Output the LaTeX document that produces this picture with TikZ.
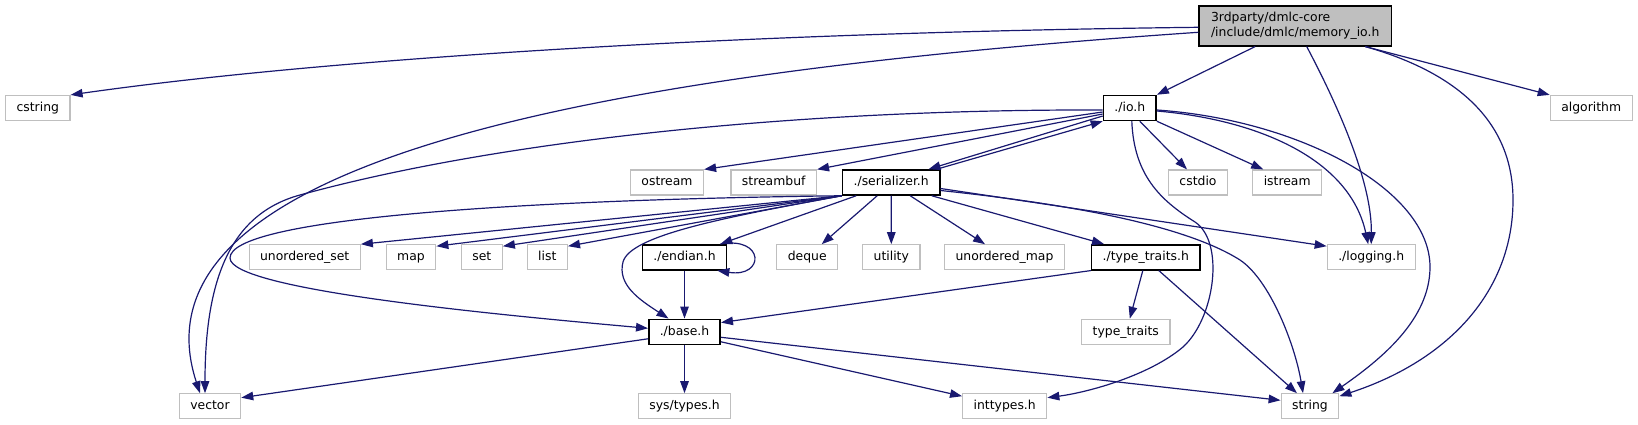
\documentclass[tikz,border=0pt]{standalone}
\usepackage{fontspec}
\setmainfont{DejaVu Sans}
\usetikzlibrary{arrows.meta}
\definecolor{grey75}{HTML}{BFBFBF}
\definecolor{edgeblue}{HTML}{191970}

\begin{document}
\begin{tikzpicture}[
    x=1pt, y=-1pt,
    file/.style={rectangle, draw=grey75, line width=1.2pt, fill=white, inner xsep=11pt, inner ysep=0pt, minimum height=25pt, font=\fontsize{12.4}{15}\selectfont, text height=9pt, text depth=2.5pt},
    hdr/.style={file, draw=black, line width=1.5pt},
    rootbox/.style={rectangle, draw=black, line width=1.5pt, fill=grey75, align=left, inner xsep=12pt, inner ysep=4pt, minimum height=40pt, font=\fontsize{12.4}{15}\selectfont},
    dep/.style={-{Triangle[length=12pt,width=8.5pt]}, line width=1.2pt, draw=edgeblue}
]
    \useasboundingbox (0,0) rectangle (1638,425);

    % files
    \node[rootbox] (root) at (1295.2,25.8) {3rdparty/dmlc-core\\/include/dmlc/memory\_io.h};
    \node[file] (cstring) at (37.8,108) {cstring};
    \node[hdr] (io) at (1129.8,108) {./io.h};
    \node[file] (algorithm) at (1591.2,108) {algorithm};
    \node[file] (ostream) at (667,182.5) {ostream};
    \node[file] (streambuf) at (773.7,182.5) {streambuf};
    \node[hdr] (serializer) at (891.2,182.5) {./serializer.h};
    \node[file] (cstdio) at (1198,182.5) {cstdio};
    \node[file] (istream) at (1287.2,182.5) {istream};
    \node[file] (uset) at (304.7,257.3) {unordered\_set};
    \node[file] (map) at (411,257.3) {map};
    \node[file] (set) at (481.8,257.3) {set};
    \node[file] (list) at (547.3,257.3) {list};
    \node[hdr] (endian) at (684.5,257.3) {./endian.h};
    \node[file] (deque) at (807.2,257.3) {deque};
    \node[file] (utility) at (891.3,257.3) {utility};
    \node[file] (umap) at (1004.5,257.3) {unordered\_map};
    \node[hdr] (ttraitsh) at (1145.8,257.3) {./type\_traits.h};
    \node[file] (logging) at (1371.2,257.3) {./logging.h};
    \node[hdr] (base) at (684.5,331.8) {./base.h};
    \node[file] (ttraits) at (1125.8,331.8) {type\_traits};
    \node[file] (vector) at (210,406.3) {vector};
    \node[file] (systypes) at (684.5,406.3) {sys/types.h};
    \node[file] (inttypes) at (1004.7,406.3) {inttypes.h};
    \node[file] (string) at (1310,406.3) {string};

    % memory_io.h
    \draw[dep] ([yshift=-1.5pt]root.west) .. controls (700,33) and (300,62) .. (cstring.north east);
    \draw[dep] ([yshift=-6.5pt]root.west) .. controls (650,70) and (120,150) .. ([xshift=-10pt]vector.north);
    \draw[dep] ([xshift=-40pt]root.south) -- (io.north east);
    \draw[dep] ([xshift=11.5pt]root.south) .. controls (1335,100) and (1372,180) .. (logging.north);
    \draw[dep] ([xshift=70pt]root.south) .. controls (1455,72) and (1513,120) .. (1513,200) .. controls (1513,290) and (1450,360) .. ([yshift=-3pt]string.north east);
    \draw[dep] ([xshift=70pt]root.south) -- (algorithm.north west);

    % io.h
    \draw[dep] ([yshift=-2pt]io.west) .. controls (800,109) and (500,140) .. (300,195) .. controls (230,214) and (205,280) .. ([xshift=-5pt]vector.north);
    \draw[dep] ([yshift=-4pt]io.west) -- (ostream.north east);
    \draw[dep] ([yshift=-6pt]io.west) -- (streambuf.north east);
    \draw[dep] ([yshift=-8pt]io.west) -- ([xshift=-12pt]serializer.north east);
    \draw[dep] ([xshift=10pt]io.south) -- ([xshift=-11pt]cstdio.north);
    \draw[dep] (io.south east) -- ([xshift=-24pt]istream.north);
    \draw[dep] ([yshift=-3pt]io.east) .. controls (1260,120) and (1350,160) .. ([xshift=-3pt]logging.north);
    \draw[dep] ([yshift=-2pt]io.east) .. controls (1300,120) and (1430,190) .. (1430,267) .. controls (1430,320) and (1380,360) .. ([xshift=-7pt]string.north east);
    \draw[dep] ([xshift=2pt]io.south) .. controls (1134,175) and (1160,200) .. (1195,222) .. controls (1225,242) and (1215,318) .. (1183,347) .. controls (1150,375) and (1090,392) .. ([yshift=-4.5pt]inttypes.north east);

    % serializer.h
    \draw[dep] ([xshift=-4pt]serializer.north east) -- (io.south west);
    \draw[dep] (serializer.south west) .. controls (500,200) and (230,220) .. (230,258) .. controls (230,290) and (500,315) .. ([yshift=3.5pt]base.west);
    \draw[dep] (serializer.south west) .. controls (720,218) and (630,236) .. (623,262) .. controls (617,285) and (640,300) .. ([xshift=-16pt]base.north);
    \draw[dep] (serializer.south west) -- (uset.north east);
    \draw[dep] (serializer.south west) -- ([yshift=-2pt]map.north east);
    \draw[dep] (serializer.south west) -- ([yshift=-2pt]set.north east);
    \draw[dep] (serializer.south west) -- ([yshift=-2pt]list.north east);
    \draw[dep] ([xshift=-35pt]serializer.south) -- ([xshift=-7pt]endian.north east);
    \draw[dep] ([xshift=-14pt]serializer.south) -- ([xshift=14.5pt]deque.north);
    \draw[dep] (serializer.south) -- (utility.north);
    \draw[dep] ([xshift=19pt]serializer.south) -- ([xshift=-19.5pt]umap.north);
    \draw[dep] ([xshift=40.5pt]serializer.south) -- ([xshift=13pt]ttraitsh.north west);
    \draw[dep] ([yshift=-6pt]serializer.east) -- ([yshift=-2pt]logging.north west);
    \draw[dep] ([yshift=-8pt]serializer.east) .. controls (1050,202) and (1180,222) .. (1240,260) .. controls (1270,280) and (1295,345) .. ([xshift=-7pt]string.north);

    % endian.h, type_traits.h
    \draw[dep] ([xshift=-7pt]endian.north east) .. controls (765,236) and (765,278) .. ([xshift=-10pt]endian.south east);
    \draw[dep] (endian) -- (base);
    \draw[dep] (ttraitsh.south west) -- ([yshift=-4pt]base.north east);
    \draw[dep] ([xshift=-3pt]ttraitsh.south) -- ([xshift=4pt]ttraits.north);
    \draw[dep] ([xshift=13pt]ttraitsh.south) -- ([xshift=-13pt]string.north);

    % base.h
    \draw[dep] (base) -- (systypes);
    \draw[dep] ([yshift=-10pt]base.east) -- ([yshift=-3pt]inttypes.north west);
    \draw[dep] ([yshift=-5.5pt]base.east) -- ([yshift=6pt]string.west);
    \draw[dep] ([yshift=-7pt]base.west) -- ([yshift=-4.5pt]vector.north east);
\end{tikzpicture}
\end{document}
